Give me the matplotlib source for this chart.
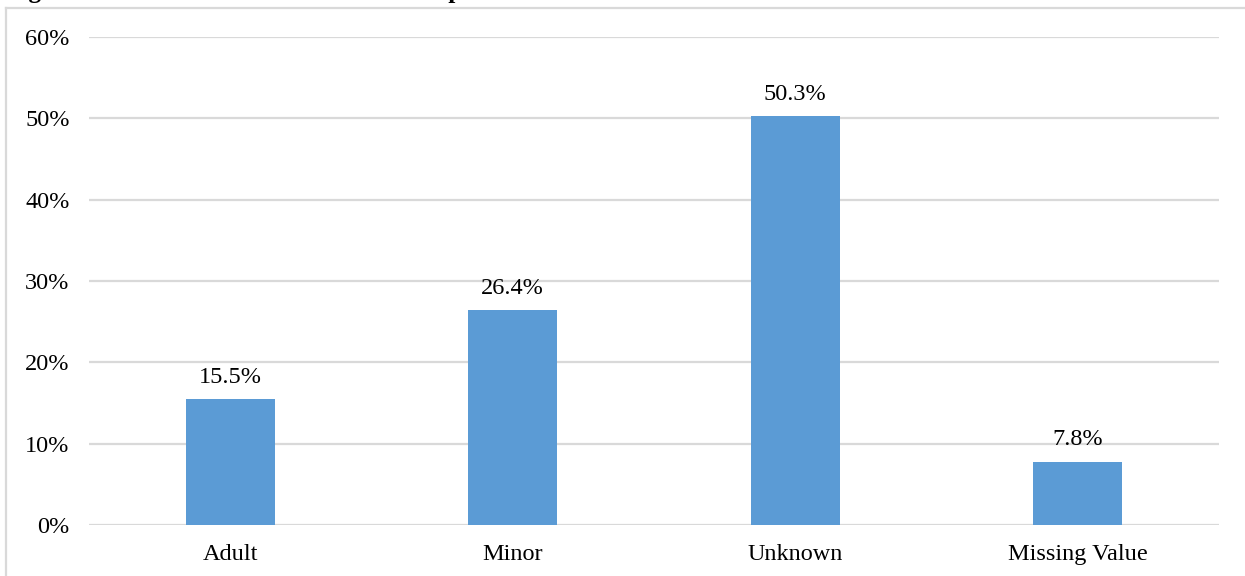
import matplotlib.pyplot as plt
from matplotlib.lines import Line2D
from matplotlib.ticker import FuncFormatter

plt.rcParams['font.family'] = ['Liberation Serif', 'DejaVu Serif']

# 연령 구분별 비율
categories = ['Adult', 'Minor', 'Unknown', 'Missing Value']
shares = [15.5, 26.4, 50.3, 7.8]
yticks = [0, 10, 20, 30, 40, 50, 60]

fig = plt.figure(figsize=(12.45, 5.76), dpi=100)
ax = fig.add_axes([89 / 1245, 1 - 525 / 576, 1130 / 1245, 488 / 576])

x = range(len(categories))
bars = ax.bar(x, shares, width=0.315, color='#5B9BD5', zorder=3)

for b, v in zip(bars, shares):
    ax.annotate(f'{v}%', (b.get_x() + b.get_width() / 2, v),
                xytext=(0, 8), textcoords='offset points',
                ha='center', va='bottom', fontsize=17.5)

ax.set_xlim(-0.5, len(categories) - 0.5)
ax.set_ylim(0, 60)
ax.set_yticks(yticks)
ax.yaxis.set_major_formatter(FuncFormatter(lambda v, p: f'{v:.0f}%'))
ax.set_xticks(list(x))
ax.set_xticklabels(categories)
ax.tick_params(axis='both', length=0, labelsize=17.5)
ax.tick_params(axis='y', pad=14)
ax.tick_params(axis='x', pad=14)
ax.grid(axis='y', color='#D9D9D9', linewidth=1.6, zorder=0)
for s in ax.spines.values():
    s.set_visible(False)

# 차트 영역 테두리 (왼쪽, 위)
fig.add_artist(Line2D([6 / 1245, 6 / 1245], [0, 1 - 8 / 576],
                      transform=fig.transFigure, color='#D9D9D9', linewidth=1.6))
fig.add_artist(Line2D([6 / 1245, 1], [1 - 8 / 576, 1 - 8 / 576],
                      transform=fig.transFigure, color='#D9D9D9', linewidth=1.6))

# 제목 (위쪽이 잘려 있음)
fig.text(6 / 1245, 1 + 2 / 576, 'Figure 2: Victim Status at the Time of Report',
         ha='left', va='baseline', fontsize=18.2, fontweight='bold')

fig.savefig('out.png', dpi=100)
